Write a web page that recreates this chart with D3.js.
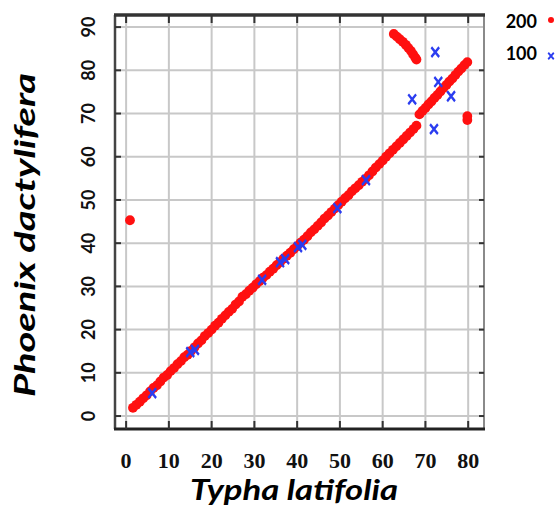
<!DOCTYPE html>
<html>
<head>
<meta charset="utf-8">
<script src="https://cdn.jsdelivr.net/npm/d3@7"></script>
<style>
  body { margin: 0; background: #fff; }
  .grid line { stroke: #c8c8c8; stroke-width: 2; }
  .ticklabel-x { font-family: "Liberation Serif", serif; font-weight: bold; font-size: 22px; fill: #111; }
  .ticklabel-y { font-family: Lato, sans-serif; font-weight: bold; font-size: 18px; fill: #111; }
  .atitle { font-family: Lato, sans-serif; font-weight: bold; font-style: italic; font-size: 28px; fill: #000; }
  .legend { font-family: Lato, sans-serif; font-weight: bold; font-size: 18px; fill: #000; }
</style>
</head>
<body>
<div id="vis"></div>
<script>

// tick values for both axes
var xTicks = [0, 10, 20, 30, 40, 50, 60, 70, 80];
var yTicks = [0, 10, 20, 30, 40, 50, 60, 70, 80, 90];

// series "200" (red dots)
var redX = [1.6, 2.4, 3.2, 4.0, 4.8, 5.6, 6.4, 7.2, 8.0, 8.8, 9.6, 10.4, 11.2, 12.0, 12.8, 13.6, 14.4, 15.2, 16.0, 16.8,
            17.6, 18.4, 19.2, 20.0, 20.8, 21.6, 22.4, 23.2, 24.0, 24.8, 25.6, 26.4, 27.2, 28.0, 28.8, 29.6, 30.4, 31.2, 32.0, 32.8,
            33.6, 34.4, 35.2, 36.0, 36.8, 37.6, 38.4, 39.2, 40.0, 40.8, 41.6, 42.4, 43.2, 44.0, 44.8, 45.6, 46.4, 47.2, 48.0, 48.8,
            49.6, 50.4, 51.2, 52.0, 52.8, 53.6, 54.4, 55.2, 56.0, 56.8, 57.6, 58.4, 59.2, 60.0, 60.8, 61.6, 62.4, 63.2, 64.0, 64.8,
            65.6, 66.4, 67.2, 67.9,
            68.6, 69.3, 70.0, 70.7, 71.4, 72.1, 72.8, 73.5, 74.2, 74.9, 75.6, 76.3, 77.0, 77.7, 78.4, 79.1, 79.8,
            62.6, 63.3, 64.0, 64.7, 65.4, 66.0, 66.6, 67.1, 67.6, 67.9,
            79.8, 79.8, 0.9];
var redY = [1.9, 2.6, 3.3, 4.1, 4.8, 5.7, 6.5, 7.1, 8.0, 8.9, 9.5, 10.4, 11.1, 12.0, 12.7, 13.6, 14.2, 15.1, 15.9, 16.8,
            17.5, 18.5, 19.2, 20.0, 20.9, 21.6, 22.5, 23.3, 24.1, 24.8, 25.8, 26.5, 27.6, 28.2, 29.0, 29.7, 30.5, 31.2, 32.0, 32.6,
            33.4, 34.1, 34.9, 35.6, 36.4, 37.1, 37.8, 38.6, 39.3, 40.1, 40.8, 41.6, 42.5, 43.2, 44.0, 44.8, 45.7, 46.4, 47.2, 48.0,
            48.8, 49.6, 50.4, 51.1, 52.0, 52.7, 53.4, 54.2, 54.9, 55.7, 56.6, 57.5, 58.3, 59.1, 60.0, 60.8, 61.6, 62.4, 63.2, 64.0,
            64.8, 65.6, 66.4, 67.2,
            69.8, 70.6, 71.3, 72.1, 72.8, 73.6, 74.3, 75.1, 75.9, 76.6, 77.4, 78.1, 78.9, 79.7, 80.4, 81.2, 81.9,
            88.4, 87.8, 87.2, 86.6, 85.9, 85.2, 84.5, 83.7, 83.0, 82.5,
            68.5, 69.4, 45.3];

// series "100" (blue crosses)
var blueX = [6.1, 15.0, 16.1, 31.8, 36.0, 37.2, 40.2, 41.2, 49.4, 56.1, 66.9, 72.0, 72.3, 73.0, 76.0];
var blueY = [5.3, 14.8, 15.3, 31.5, 35.6, 36.3, 39.1, 39.6, 48.1, 54.6, 73.3, 66.4, 84.2, 77.3, 74.0];

var legendLabels = ["200", "100"];

var width = 558, height = 521;
var box = {left: 115, right: 484, top: 15, bottom: 429};

var x = d3.scaleLinear().domain([-2.6, 83.7]).range([box.left, box.right]);
var y = d3.scaleLinear().domain([-3, 92.8]).range([box.bottom, box.top]);

var svg = d3.select("#vis").append("svg")
  .attr("width", width)
  .attr("height", height);

// grid
var grid = svg.append("g").attr("class", "grid");
grid.selectAll("line.gx")
  .data(xTicks)
  .enter().append("line")
  .attr("x1", x).attr("x2", x)
  .attr("y1", box.top).attr("y2", box.bottom);
grid.selectAll("line.gy")
  .data(yTicks)
  .enter().append("line")
  .attr("y1", y).attr("y2", y)
  .attr("x1", box.left).attr("x2", box.right);

// frame - right side is lighter than the rest
svg.append("line")
  .attr("x1", box.right).attr("x2", box.right)
  .attr("y1", box.top).attr("y2", box.bottom)
  .attr("stroke", "#8a8a8a").attr("stroke-width", 2);
svg.append("line")
  .attr("x1", box.left).attr("x2", box.left)
  .attr("y1", box.top).attr("y2", box.bottom)
  .attr("stroke", "#444").attr("stroke-width", 2.5);
svg.append("line")
  .attr("x1", box.left - 1).attr("x2", box.right + 1)
  .attr("y1", box.top).attr("y2", box.top)
  .attr("stroke", "#333").attr("stroke-width", 3.5);
svg.append("line")
  .attr("x1", box.left - 1).attr("x2", box.right + 1)
  .attr("y1", box.bottom).attr("y2", box.bottom)
  .attr("stroke", "#222").attr("stroke-width", 3);

// tick marks on all four sides
var ticks = svg.append("g").attr("stroke", "#333").attr("stroke-width", 2);
ticks.selectAll("line.tt")
  .data(xTicks)
  .enter().append("line")
  .attr("x1", x).attr("x2", x)
  .attr("y1", box.top).attr("y2", box.top + 8);
ticks.selectAll("line.tb")
  .data(xTicks)
  .enter().append("line")
  .attr("x1", x).attr("x2", x)
  .attr("y1", box.bottom).attr("y2", box.bottom - 8);
ticks.selectAll("line.tl")
  .data(yTicks)
  .enter().append("line")
  .attr("y1", y).attr("y2", y)
  .attr("x1", box.left).attr("x2", box.left + 6);
ticks.selectAll("line.tr")
  .data(yTicks.slice(0, 9))
  .enter().append("line")
  .attr("y1", y).attr("y2", y)
  .attr("x1", box.right).attr("x2", box.right - 5);

// x tick labels
svg.selectAll("text.ticklabel-x")
  .data(xTicks)
  .enter().append("text")
  .attr("class", "ticklabel-x")
  .attr("x", x)
  .attr("y", 468)
  .attr("text-anchor", "middle")
  .text(function(d) { return d; });

// y tick labels (rotated)
svg.selectAll("text.ticklabel-y")
  .data(yTicks)
  .enter().append("text")
  .attr("class", "ticklabel-y")
  .attr("transform", function(d) { return "translate(95," + y(d) + ") rotate(-90)"; })
  .attr("text-anchor", "middle")
  .text(function(d) { return d; });

// axis titles - the original is stretched, so fit them to its widths
svg.append("text")
  .attr("class", "atitle")
  .attr("x", 294)
  .attr("y", 500)
  .attr("text-anchor", "middle")
  .attr("textLength", 208)
  .attr("lengthAdjust", "spacingAndGlyphs")
  .text("Typha latifolia");

svg.append("text")
  .attr("class", "atitle")
  .attr("transform", "translate(35,235) rotate(-90)")
  .attr("text-anchor", "middle")
  .attr("textLength", 324)
  .attr("lengthAdjust", "spacingAndGlyphs")
  .text("Phoenix dactylifera");

// red dots
svg.append("g").selectAll("circle")
  .data(redX)
  .enter().append("circle")
  .attr("cx", function(d) { return x(d); })
  .attr("cy", function(d, i) { return y(redY[i]); })
  .attr("r", 4.9)
  .attr("fill", "#ff1010");

// blue crosses
var cross = d3.symbol().type(d3.symbolX).size(42);
svg.append("g").selectAll("path")
  .data(blueX)
  .enter().append("path")
  .attr("d", cross)
  .attr("transform", function(d, i) { return "translate(" + x(d) + "," + y(blueY[i]) + ") scale(1,1.25)"; })
  .attr("fill", "none")
  .attr("stroke", "#2b3df0")
  .attr("stroke-width", 2.2);

// legend
var legend = svg.append("g");
legend.selectAll("text")
  .data(legendLabels)
  .enter().append("text")
  .attr("class", "legend")
  .attr("x", 537)
  .attr("y", function(d, i) { return 28 + i * 32; })
  .attr("text-anchor", "end")
  .text(function(d) { return d; });
legend.append("circle")
  .attr("cx", 551).attr("cy", 20).attr("r", 3)
  .attr("fill", "#ff1010");
legend.append("path")
  .attr("d", d3.symbol().type(d3.symbolX).size(22))
  .attr("transform", "translate(551,56) scale(1,1.2)")
  .attr("fill", "none")
  .attr("stroke", "#2b3df0")
  .attr("stroke-width", 1.8);

</script>
</body>
</html>
